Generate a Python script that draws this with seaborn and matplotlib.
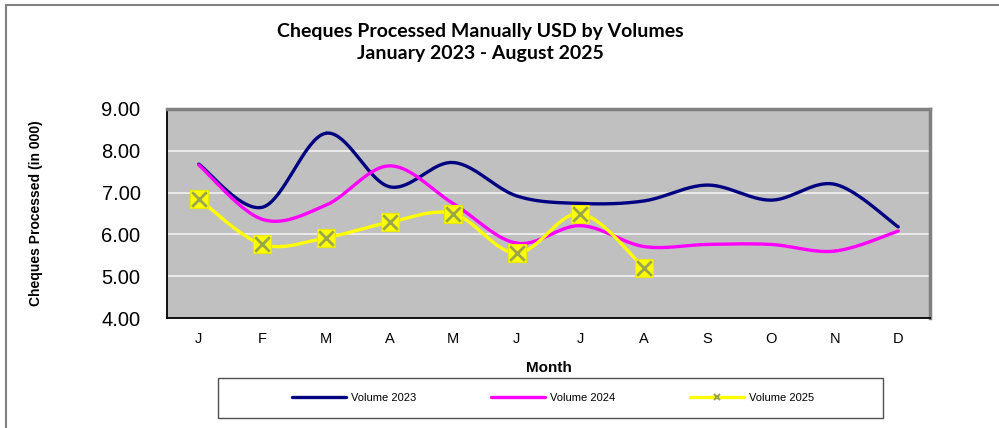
import numpy as np
import pandas as pd
import matplotlib
matplotlib.use("Agg")
import matplotlib.pyplot as plt
import seaborn as sns
from matplotlib.patches import Rectangle
from matplotlib.lines import Line2D

# ------------------------------------------------------------
# Data (volumes in thousands)
# ------------------------------------------------------------
months = ['J', 'F', 'M', 'A', 'M', 'J', 'J', 'A', 'S', 'O', 'N', 'D']
vol_2023 = [7.68, 6.65, 8.42, 7.14, 7.72, 6.92, 6.74, 6.80, 7.18, 6.82, 7.20, 6.18]
vol_2024 = [7.66, 6.36, 6.70, 7.64, 6.74, 5.79, 6.21, 5.71, 5.76, 5.76, 5.60, 6.08]
vol_2025 = [6.85, 5.76, 5.92, 6.29, 6.50, 5.55, 6.50, 5.20]

series = [('Volume 2023', vol_2023, '#000080'),
          ('Volume 2024', vol_2024, '#FF00FF'),
          ('Volume 2025', vol_2025, '#FFFF00')]


def smooth(y, n=40):
    # Excel-like smoothed line (Catmull-Rom through the points)
    y = np.asarray(y, dtype=float)
    x = np.arange(len(y), dtype=float)
    p = np.column_stack([x, y])
    p = np.vstack([p[0], p, p[-1]])
    out = []
    t = np.linspace(0, 1, n)[:, None]
    for i in range(1, len(p) - 2):
        p0, p1, p2, p3 = p[i - 1], p[i], p[i + 1], p[i + 2]
        seg = 0.5 * ((2 * p1) + (-p0 + p2) * t
                     + (2 * p0 - 5 * p1 + 4 * p2 - p3) * t ** 2
                     + (-p0 + 3 * p1 - 3 * p2 + p3) * t ** 3)
        out.append(seg)
    out = np.vstack(out)
    return out[:, 0], out[:, 1]


sns.set_style("white")
plt.rcParams['font.family'] = ['Liberation Sans', 'DejaVu Sans']
plt.rcParams.update({'text.color': 'black', 'axes.labelcolor': 'black',
                     'xtick.color': 'black', 'ytick.color': 'black'})

fig = plt.figure(figsize=(9.99, 4.28), dpi=100)
ax = fig.add_axes([167 / 999, 1 - 318 / 428, (930 - 167) / 999, (318 - 109) / 428])
ax.set_facecolor('#C0C0C0')

for name, vals, col in series:
    sx, sy = smooth(vals)
    sns.lineplot(x=sx, y=sy, ax=ax, color=col, lw=2.4, sort=False,
                 estimator=None, zorder=3)

# markers for 2025
idx = np.arange(len(vol_2025))
ax.scatter(idx, vol_2025, marker='s', s=150, color='#FFFF00',
           edgecolor='#E8E800', linewidth=0.8, zorder=4)
ax.scatter(idx, vol_2025, marker='x', s=110, color='#9AA64A',
           linewidth=2.0, zorder=5)

ax.set_xlim(-0.5, 11.5)
ax.set_ylim(4, 9)
ax.set_yticks(np.arange(4, 9.01, 1))
ax.set_yticklabels([f'{v:.2f}' for v in np.arange(4, 9.01, 1)], fontsize=14.5)
ax.yaxis.grid(True, color='#F2F2F2', lw=1.2)
ax.set_axisbelow(True)

ax.set_xticks(np.arange(-0.5, 12, 1))
ax.set_xticklabels([])
ax.set_xticks(np.arange(12), minor=True)
ax.set_xticklabels(months, minor=True, fontsize=10.5)
ax.tick_params(axis='x', which='major', direction='out', length=5, width=1, color='black')
ax.tick_params(axis='x', which='minor', length=0, pad=10)
ax.tick_params(axis='y', direction='out', length=5, width=1, color='black', pad=14)

for s in ['left', 'bottom']:
    ax.spines[s].set_color('black')
    ax.spines[s].set_linewidth(1.3)
for s in ['top', 'right']:
    ax.spines[s].set_color('#808080')
    ax.spines[s].set_linewidth(2.5)

ax.set_xlabel('Month', fontsize=11, fontweight='bold')
ax.xaxis.set_label_coords(0.5, (318 - 361) / 209)
ax.set_ylabel('Cheques Processed (in 000)', fontsize=10, fontweight='bold')
ax.yaxis.set_label_coords((43 - 167) / 763, 0.5)

fig.text(480 / 999, 1 - 31 / 428, 'Cheques Processed Manually USD by Volumes',
         ha='center', va='center', fontsize=14, fontweight='bold', family=['Lato', 'DejaVu Sans'])
fig.text(480 / 999, 1 - 53 / 428, 'January 2023 - August 2025',
         ha='center', va='center', fontsize=14, fontweight='bold', family=['Lato', 'DejaVu Sans'])

# legend box
fig.patches.append(Rectangle((218 / 999, 1 - 418 / 428), (883 - 218) / 999, 40 / 428,
                             transform=fig.transFigure, fill=False,
                             edgecolor='#505050', lw=1.0))
handles = [Line2D([], [], color=c, lw=2.4) for _, _, c in series[:2]]
handles.append(Line2D([], [], color='#FFFF00', lw=2.4, marker='x',
                      markersize=4, markeredgecolor='#9AA64A', markeredgewidth=1.5))
fig.legend(handles, [n for n, _, _ in series], loc='center',
           bbox_to_anchor=(553 / 999, 1 - 398 / 428), ncol=3, frameon=False,
           fontsize=8, handlelength=4.8, handletextpad=0.45, columnspacing=6.8)

# outer chart border
fig.add_artist(Line2D([6 / 999, 6 / 999], [0, 1 - 5 / 428], transform=fig.transFigure,
                      color='#808080', lw=1.5))
fig.add_artist(Line2D([6 / 999, 1.0], [1 - 5 / 428, 1 - 5 / 428],
                      transform=fig.transFigure, color='#808080', lw=1.5))

fig.savefig('out.png', dpi=100)
